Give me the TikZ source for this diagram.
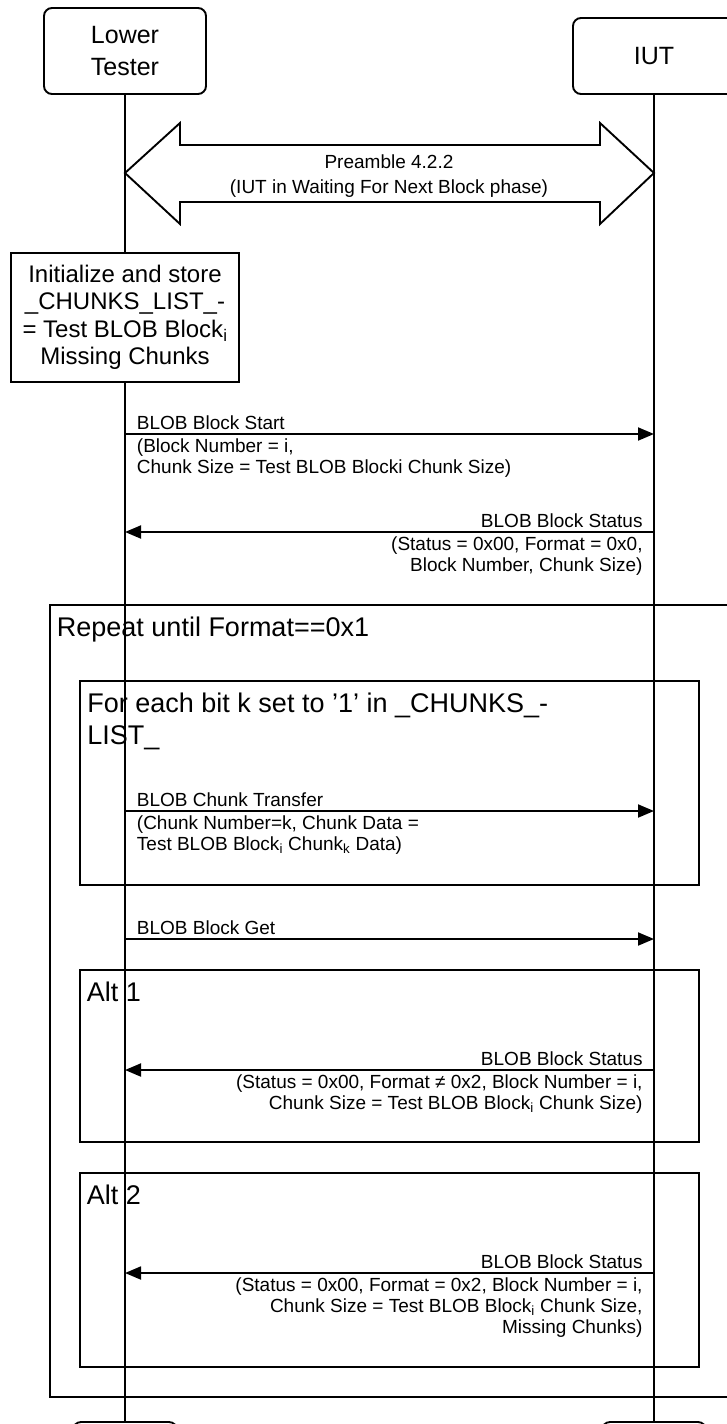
\documentclass[tikz,border=0pt]{standalone}
\usepackage{fontspec}
\setmainfont{Liberation Sans}
\usetikzlibrary{arrows.meta}

\newcommand\msgfont{\fontsize{19}{21}\selectfont}
\newcommand\prefont{\fontsize{19}{25.5}\selectfont}
\newcommand\framefont{\fontsize{27}{32}\selectfont}
\newcommand\initfont{\fontsize{24}{27.5}\selectfont}
\newcommand\headfont{\fontsize{25}{31.5}\selectfont}

\begin{document}
\begin{tikzpicture}[x=1pt,y=-1pt, line width=1.9pt,
  lifebox/.style={draw, rounded corners=8pt, minimum width=162pt, align=center, inner sep=0pt, fill=white, font=\headfont},
  endbox/.style={draw, rounded corners=8pt, minimum width=104pt, minimum height=40pt, inner sep=0pt, fill=white},
  actbox/.style={draw, fill=white, minimum width=228pt, minimum height=129pt, align=center, inner sep=0pt, font=\initfont},
  framebox/.style={draw},
  framelabel/.style={anchor=base west, font=\framefont, inner sep=0pt, align=left},
  msg/.style={-{Triangle[length=16pt,width=13pt]}},
  lbl/.style={anchor=base west, font=\msgfont, inner sep=0pt, align=left},
  lblr/.style={anchor=base east, font=\msgfont, inner sep=0pt, align=right},
]
\useasboundingbox (0,0) rectangle (727,1424);

% lifeline heads and feet
\node[lifebox, minimum height=86pt] (LT) at (125,51) {Lower\\Tester};
\node[lifebox, minimum height=76pt] (IUT) at (654,56) {IUT};
\node[endbox] (LTe) at (125,1442) {};
\node[endbox] (IUTe) at (654,1442) {};

% lifelines
\draw (LT.south) -- (LTe.north);
\draw (IUT.south) -- (IUTe.north);

% preamble double arrow
\coordinate (pL) at (125,173);
\coordinate (pR) at (654,173);
\draw[fill=white, line join=miter] (pL) -- (180,123) -- (180,145) -- (600,145) -- (600,123) -- (pR)
  -- (600,224) -- (600,202) -- (180,202) -- (180,224) -- cycle;
\node[font=\prefont, align=center, inner sep=0pt] (pre) at (389,176) {Preamble 4.2.2\\(IUT in Waiting For Next Block phase)};

% initialize action box
\node[actbox] (init) at (125,317.5) {Initialize and store\\\_CHUNKS\_LIST\_-\\= Test BLOB Block\textsubscript{i}\\Missing Chunks};

% message 1
\coordinate (m1s) at (125,434);
\coordinate (m1e) at (654,434);
\draw[msg] (m1s) -- (m1e);
\node[lbl] (m1a) at (136,429) {BLOB Block Start};
\node[lbl] (m1b) at (136,473) {(Block Number = i,\\Chunk Size = Test BLOB Blocki Chunk Size)};

% message 2
\coordinate (m2s) at (654,532);
\coordinate (m2e) at (125,532);
\draw[msg] (m2s) -- (m2e);
\node[lblr] (m2a) at (643.5,527) {BLOB Block Status};
\node[lblr] (m2b) at (643.5,571) {(Status = 0x00, Format = 0x0,\\Block Number, Chunk Size)};

% repeat frame
\coordinate (rep1) at (50,605);
\coordinate (rep2) at (765,1397);
\draw[framebox] (rep1) rectangle (rep2);
\node[framelabel] (repL) at (56,636) {Repeat until Format==0x1};

% for-each frame
\coordinate (for1) at (80,681);
\coordinate (for2) at (699,885);
\draw[framebox] (for1) rectangle (for2);
\node[framelabel] (forL) at (86.5,744) {For each bit k set to ’1’ in \_CHUNKS\_-\\LIST\_};

% message 3
\coordinate (m3s) at (125,811);
\coordinate (m3e) at (654,811);
\draw[msg] (m3s) -- (m3e);
\node[lbl] (m3a) at (136,806) {BLOB Chunk Transfer};
\node[lbl] (m3b) at (136,850) {(Chunk Number=k, Chunk Data =\\Test BLOB Block\textsubscript{i} Chunk\textsubscript{k} Data)};

% message 4
\coordinate (m4s) at (125,939);
\coordinate (m4e) at (654,939);
\draw[msg] (m4s) -- (m4e);
\node[lbl] (m4a) at (136,934) {BLOB Block Get};

% alt 1
\coordinate (a11) at (80,970);
\coordinate (a12) at (699,1142);
\draw[framebox] (a11) rectangle (a12);
\node[framelabel] (a1L) at (86,1001) {Alt 1};
\coordinate (m5s) at (654,1070);
\coordinate (m5e) at (125,1070);
\draw[msg] (m5s) -- (m5e);
\node[lblr] (m5a) at (643.5,1065) {BLOB Block Status};
\node[lblr] (m5b) at (643.5,1109) {(Status = 0x00, Format ≠ 0x2, Block Number = i,\\Chunk Size = Test BLOB Block\textsubscript{i} Chunk Size)};

% alt 2
\coordinate (a21) at (80,1173);
\coordinate (a22) at (699,1367);
\draw[framebox] (a21) rectangle (a22);
\node[framelabel] (a2L) at (86,1204.5) {Alt 2};
\coordinate (m6s) at (654,1273);
\coordinate (m6e) at (125,1273);
\draw[msg] (m6s) -- (m6e);
\node[lblr] (m6a) at (643.5,1268) {BLOB Block Status};
\node[lblr] (m6b) at (643.5,1333) {(Status = 0x00, Format = 0x2, Block Number = i,\\Chunk Size = Test BLOB Block\textsubscript{i} Chunk Size,\\Missing Chunks)};
\end{tikzpicture}
\end{document}
